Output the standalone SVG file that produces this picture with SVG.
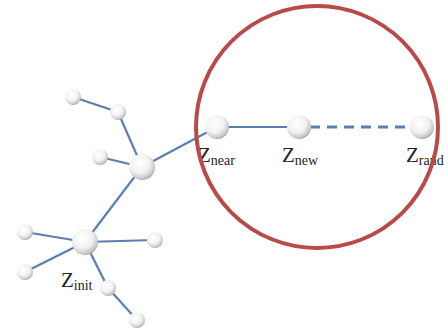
<svg xmlns="http://www.w3.org/2000/svg" width="448" height="336" viewBox="0 0 448 336">
<defs>
<radialGradient id="sph" cx="0.4" cy="0.35" r="0.7">
<stop offset="0" stop-color="#ffffff"/>
<stop offset="0.55" stop-color="#f2f2f2"/>
<stop offset="0.85" stop-color="#c8c8c8"/>
<stop offset="1" stop-color="#9a9a9a"/>
</radialGradient>
</defs>
<style>
.e{stroke:#5b7fae;stroke-width:2.2;fill:none}
.d{stroke:#5b7fae;stroke-width:3;fill:none;stroke-dasharray:10 7}
.n{fill:url(#sph)}
.t{font-family:"Liberation Serif","Times New Roman",serif;fill:#222}
.z{font-size:21px}
.s{font-size:14px}
</style>
<rect width="448" height="336" fill="#ffffff"/>
<g id="connectors">
<line class="e" x1="73" y1="97" x2="118" y2="112"/>
<line class="e" x1="118" y1="112" x2="142" y2="167"/>
<line class="e" x1="100" y1="157" x2="142" y2="167"/>
<line class="e" x1="142" y1="167" x2="217" y2="127"/>
<line class="e" x1="142" y1="167" x2="85" y2="242"/>
<line class="e" x1="85" y1="242" x2="25" y2="232"/>
<line class="e" x1="85" y1="242" x2="25" y2="272"/>
<line class="e" x1="85" y1="242" x2="155" y2="240"/>
<line class="e" x1="85" y1="242" x2="108" y2="288"/>
<line class="e" x1="108" y1="288" x2="137" y2="320"/>
<line class="e" x1="217" y1="127" x2="299" y2="127"/>
<line class="d" x1="310" y1="127" x2="412" y2="127"/>
</g>
<g id="n1"><circle class="n" cx="73" cy="97" r="8"/></g>
<g id="n2"><circle class="n" cx="118" cy="112" r="8"/></g>
<g id="n3"><circle class="n" cx="100" cy="157" r="8"/></g>
<g id="n4"><circle class="n" cx="142" cy="167" r="13"/></g>
<g id="zinit"><circle class="n" cx="85" cy="242" r="13"/>
<text class="t" x="61" y="287"><tspan class="z">Z</tspan><tspan class="s" dy="3">init</tspan></text></g>
<g id="n6"><circle class="n" cx="25" cy="232" r="8"/></g>
<g id="n7"><circle class="n" cx="25" cy="272" r="8"/></g>
<g id="n8"><circle class="n" cx="155" cy="240" r="8"/></g>
<g id="n9"><circle class="n" cx="108" cy="288" r="8"/></g>
<g id="n10"><circle class="n" cx="137" cy="320" r="8"/></g>
<g id="znear"><circle class="n" cx="217" cy="127" r="12"/>
<text class="t" x="198" y="162"><tspan class="z">Z</tspan><tspan class="s" dy="3">near</tspan></text></g>
<g id="znew"><circle class="n" cx="299" cy="127" r="12"/>
<text class="t" x="282" y="162"><tspan class="z">Z</tspan><tspan class="s" dy="3">new</tspan></text></g>
<g id="zrand"><circle class="n" cx="422" cy="127" r="12"/>
<text class="t" x="406" y="162"><tspan class="z">Z</tspan><tspan class="s" dy="3">rand</tspan></text></g>
<g id="region"><circle cx="317" cy="127" r="121" fill="none" stroke="#b84b49" stroke-width="4"/></g>
</svg>
